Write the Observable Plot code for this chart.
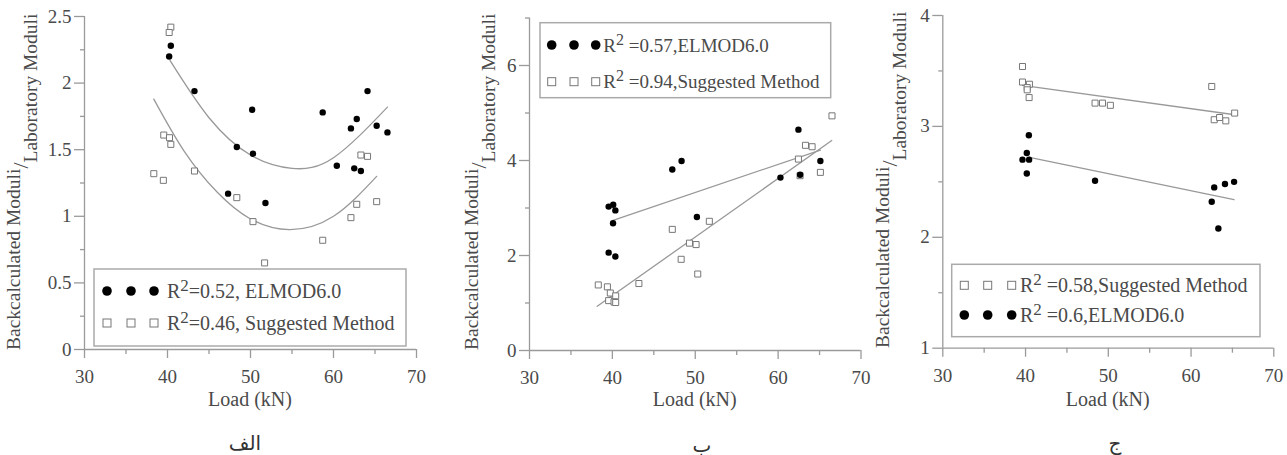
<!DOCTYPE html>
<html><head><meta charset="utf-8">
<script src="https://cdn.jsdelivr.net/npm/d3@7"></script>
<script src="https://cdn.jsdelivr.net/npm/@observablehq/plot@0.6"></script>
<style>
body{margin:0;background:#fff;width:1287px;height:455px;overflow:hidden;position:relative}
.panel{position:absolute;top:0}
.plabel{position:absolute;font-family:'DejaVu Sans';font-size:20px;color:#333;transform:translateX(-50%);white-space:nowrap}
</style></head><body>
<script>
// ---------- Panel A (الف) ----------
const aElmodLoad = [40.2,40.4,43.25,50.2,48.35,50.3,47.3,51.8,58.7,60.4,62.1,62.8,62.5,63.3,64.1,65.2,66.5];
const aElmodVal  = [2.20,2.28,1.94,1.80,1.52,1.47,1.17,1.10,1.78,1.38,1.66,1.73,1.36,1.34,1.94,1.68,1.63];
const aSugLoad = [40.4,40.2,39.55,40.24,40.4,38.35,39.5,43.25,48.35,50.3,58.7,51.7,62.1,62.8,63.3,64.1,65.2];
const aSugVal  = [2.42,2.38,1.61,1.59,1.54,1.32,1.27,1.34,1.14,0.96,0.82,0.65,0.99,1.09,1.46,1.45,1.11];
const aElmodFitLoad = [40.3,45,50,55,60,66.5];
const aElmodFitVal  = [2.17,1.74,1.46,1.36,1.44,1.82];
const aSugFitLoad = [38.35,42,46,50,54.7,60,65.2];
const aSugFitVal  = [1.88,1.49,1.18,0.98,0.90,1.00,1.30];

// ---------- Panel B (ب) ----------
const bElmodLoad = [39.55,40.1,40.36,40.08,47.23,48.35,50.2,60.28,62.45,62.65,65.1,39.55,40.36];
const bElmodVal  = [3.03,3.07,2.95,2.68,3.81,3.99,2.81,3.64,4.65,3.70,3.99,2.06,1.98];
const bSugLoad = [66.5,63.3,64.1,62.45,62.65,65.1,51.7,47.23,49.3,50.1,48.3,50.3,43.2,38.3,39.4,39.75,40.4,39.55,40.2,40.4];
const bSugVal  = [4.94,4.32,4.29,4.03,3.68,3.75,2.72,2.55,2.26,2.23,1.92,1.61,1.41,1.38,1.34,1.21,1.15,1.05,1.02,1.01];
const bElmodFitLoad = [40.08,65.1];
const bElmodFitVal  = [2.74,4.22];
const bSugFitLoad = [38.17,66.47];
const bSugFitVal  = [0.93,4.42];

// ---------- Panel C (ج) ----------
const cSugLoad = [39.63,39.63,40.47,40.2,40.2,40.43,48.4,49.3,50.25,62.5,62.8,63.45,64.2,65.27];
const cSugVal  = [3.54,3.40,3.38,3.35,3.33,3.26,3.21,3.21,3.19,3.36,3.06,3.08,3.05,3.12];
const cElmodLoad = [40.4,40.15,39.63,40.43,40.15,48.4,62.5,62.8,64.1,65.2,63.3];
const cElmodVal  = [2.92,2.76,2.70,2.70,2.575,2.51,2.32,2.45,2.48,2.50,2.08];
const cSugFitLoad = [39.63,65.3];
const cSugFitVal  = [3.37,3.105];
const cElmodFitLoad = [40.47,65.2];
const cElmodFitVal  = [2.72,2.34];

const xMajor = [30,40,50,60,70];
const xMinor = [35,45,55,65];

const zip = (xs, ys) => xs.map((x,i) => ({x, y: ys[i]}));

const panels = [
  {left:0, width:430, mL:84, mR:14, mT:16, mB:71, yDomain:[0,2.5],
   yMajor:[0,0.5,1,1.5,2,2.5], yMinor:[0.25,0.75,1.25,1.75,2.25],
   elmod: zip(aElmodLoad,aElmodVal), sug: zip(aSugLoad,aSugVal),
   fits:[zip(aElmodFitLoad,aElmodFitVal), zip(aSugFitLoad,aSugFitVal)], curve:"natural",
   ylab:{b:20, y:350},
   legend:{x0:94,x1:406,y0:269,y1:346, fs:20, rows:[{type:"dot",y:291,t:"=0.52, ELMOD6.0"},{type:"sq",y:323,t:"=0.46, Suggested Method"}], mx:[107,131,154], tx:167},
   label:"الف", lx:245, ly:431},
  {left:430, width:440, mL:99, mR:9.5, mT:17.5, mB:70, yDomain:[0,7],
   yMajor:[0,2,4,6], yMinor:[1,3,5,7],
   elmod: zip(bElmodLoad,bElmodVal), sug: zip(bSugLoad,bSugVal),
   fits:[zip(bElmodFitLoad,bElmodFitVal), zip(bSugFitLoad,bSugFitVal)], curve:"linear",
   ylab:{b:48, y:350},
   legend:{x0:110,x1:400.7,y0:22.7,y1:97.7, fs:19, rows:[{type:"dot",y:45,t:" =0.57,ELMOD6.0"},{type:"sq",y:81.7,t:" =0.94,Suggested Method"}], mx:[121.7,144,165.7], tx:173.3},
   label:"ب", lx:702, ly:433},
  {left:860, width:427, mL:82.3, mR:13.7, mT:15, mB:72.3, yDomain:[1,4],
   yMajor:[1,2,3,4], yMinor:[1.5,2.5,3.5],
   elmod: zip(cElmodLoad,cElmodVal), sug: zip(cSugLoad,cSugVal),
   fits:[zip(cElmodFitLoad,cElmodFitVal), zip(cSugFitLoad,cSugFitVal)], curve:"linear",
   ylab:{b:29, y:348},
   legend:{x0:91.7,x1:400,y0:264.3,y1:336.7, fs:20, rows:[{type:"sq",y:285.3,t:" =0.58,Suggested Method"},{type:"dot",y:315,t:" =0.6,ELMOD6.0"}], mx:[104.3,127.7,151.7], tx:160},
   label:"ج", lx:1115, ly:431}
];

const AX = "#9a9a9a", TXT = "#4a4a4a";
const SERIF = "Liberation Serif";

for (const p of panels) {
  const H = 420;
  const svg = Plot.plot({
    width: p.width, height: H,
    marginLeft: p.mL, marginRight: p.mR, marginTop: p.mT, marginBottom: p.mB,
    x: {domain:[30,70], label:null},
    y: {domain:p.yDomain, label:null},
    style: {fontSize:"19px", color:TXT, background:"transparent", overflow:"visible"},
    marks: [
      Plot.ruleX([30], {stroke:AX, strokeWidth:1.3}),
      Plot.ruleY([p.yDomain[0]], {stroke:AX, strokeWidth:1.3}),
      Plot.axisX({ticks:xMajor, tickSize:9, tickPadding:11, stroke:AX, strokeWidth:1.3, label:null, tickFormat:d=>String(d)}),
      Plot.axisX({ticks:xMinor, tickSize:5, stroke:AX, strokeWidth:1.3, label:null, tickFormat:()=>""}),
      Plot.axisY({ticks:p.yMajor, tickSize:10, tickPadding:3, stroke:AX, strokeWidth:1.3, label:null, tickFormat:d=>String(d)}),
      Plot.axisY({ticks:p.yMinor, tickSize:4, stroke:AX, strokeWidth:1.3, label:null, tickFormat:()=>""}),
      ...p.fits.map(f => Plot.line(f, {x:"x", y:"y", stroke:"#999", strokeWidth:1.3, curve:p.curve})),
      Plot.dot(p.sug, {x:"x", y:"y", symbol:"square", r:3.4, stroke:"#777", strokeWidth:1, fill:"white"}),
      Plot.dot(p.elmod, {x:"x", y:"y", r:3.2, fill:"#000", stroke:"none"})
    ]
  });
  const div = document.createElement("div");
  div.className = "panel";
  div.style.left = p.left + "px";
  div.appendChild(svg);
  document.body.appendChild(div);

  const s = d3.select(svg);
  const fx = (p.mL + (p.width - p.mR)) / 2;
  // x label
  s.append("text").attr("x", fx).attr("y", 406).attr("text-anchor","middle")
    .attr("fill", TXT).attr("font-size", 20).text("Load (kN)");
  // y label
  const yl = s.append("text")
    .attr("transform", `translate(${p.ylab.b},${p.ylab.y}) rotate(-90)`)
    .attr("text-anchor","start")
    .attr("fill", TXT).attr("font-size", 19.5);
  yl.append("tspan").text("Backcalculated Moduli");
  yl.append("tspan").attr("dy", 8).attr("font-size", 22).text("/");
  yl.append("tspan").attr("dy", 9).text("Laboratory Moduli");
  // legend
  const L = p.legend;
  s.append("rect").attr("x",L.x0).attr("y",L.y0).attr("width",L.x1-L.x0).attr("height",L.y1-L.y0)
    .attr("fill","white").attr("stroke","#aaa").attr("stroke-width",1.5);
  for (const r of L.rows) {
    for (const mx of L.mx) {
      if (r.type === "dot") s.append("circle").attr("cx",mx).attr("cy",r.y).attr("r",4.8).attr("fill","#000");
      else s.append("rect").attr("x",mx-4).attr("y",r.y-4).attr("width",8).attr("height",8)
        .attr("fill","white").attr("stroke","#777").attr("stroke-width",1);
    }
    const t = s.append("text").attr("x", L.tx).attr("y", r.y + 6.5).attr("text-anchor","start")
      .attr("fill", TXT).attr("font-size", L.fs);
    t.append("tspan").text("R");
    t.append("tspan").attr("dy",-7).attr("font-size",L.fs - 3).text("2");
    t.append("tspan").attr("dy",7).text(r.t);
  }
  // force serif font on every text of this chart
  svg.setAttribute("font-family", SERIF);
  svg.style.setProperty("font-family", SERIF, "important");
  s.selectAll("text, tspan").each(function() {
    this.setAttribute("font-family", SERIF);
    this.style.setProperty("font-family", SERIF, "important");
  });
  const lab = document.createElement("div");
  lab.className = "plabel";
  lab.style.left = p.lx + "px";
  lab.style.top = p.ly + "px";
  lab.textContent = p.label;
  document.body.appendChild(lab);
}
</script>
</body></html>
